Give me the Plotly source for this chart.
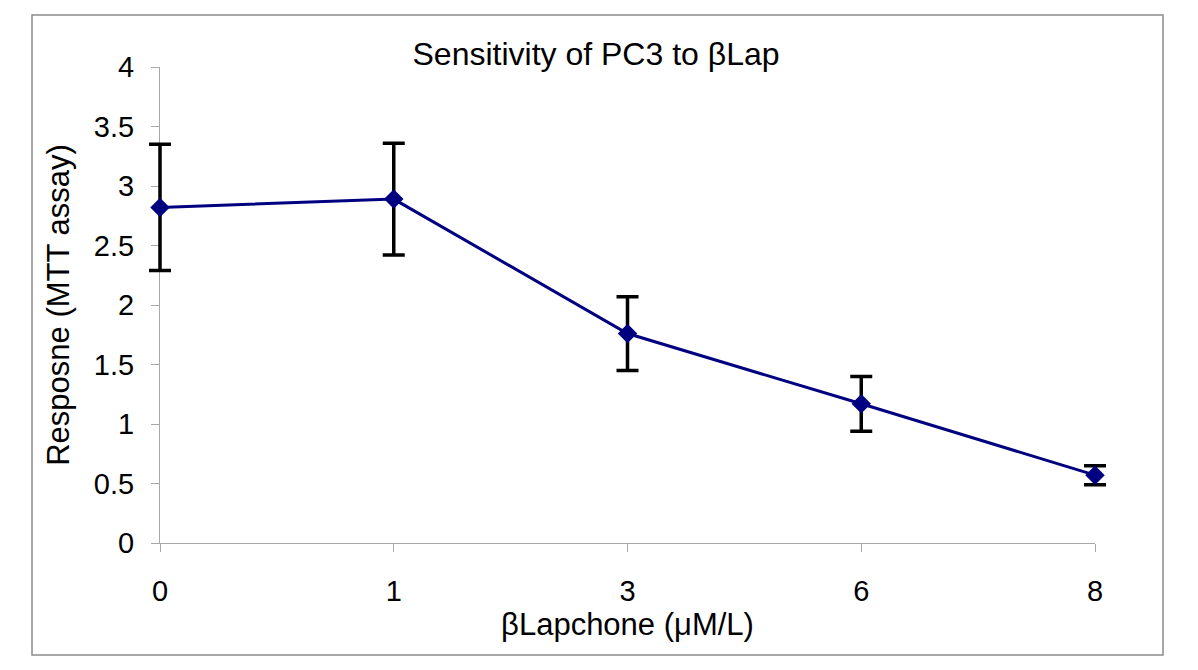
import plotly.graph_objects as go

categories = ["0", "1", "3", "6", "8"]
response = [2.82, 2.89, 1.76, 1.17, 0.57]
error = [0.53, 0.47, 0.31, 0.23, 0.08]
y_ticks = [0, 0.5, 1, 1.5, 2, 2.5, 3, 3.5, 4]
y_tick_labels = ["0", "0.5", "1", "1.5", "2", "2.5", "3", "3.5", "4"]

FONT = "Liberation Sans, Arial, sans-serif"
x_pos = list(range(len(categories)))
n_last = len(categories) - 1

# page offset (body margin) compensation
OFF = 8
W, H = 1198 - OFF, 670 - OFF
# target axes box in screen pixels
SL, SR, ST, SB = 160, 1095, 67, 543
# figure coords
AL, AR, AT, AB = SL - OFF, SR - OFF, ST - OFF, SB - OFF
# wider drawing area so error bars at ends are not clipped
PL, PR = 100, 1130

dom0 = (AL - PL) / (PR - PL)
dom1 = (AR - PL) / (PR - PL)
upp = n_last / (AR - AL)
x2_range = [-(AL - PL) * upp, n_last + (PR - AR) * upp]

def px_x(sx):
    return (sx - OFF - PL) / (PR - PL)

def px_y(sy):
    return (AB - (sy - OFF)) / (AB - AT)

fig = go.Figure()
# invisible copy on the visible axes so that they get drawn
fig.add_trace(go.Scatter(
    x=x_pos, y=response, xaxis="x", yaxis="y",
    mode="markers", marker=dict(opacity=0), hoverinfo="skip", showlegend=False,
))
fig.add_trace(go.Scatter(
    x=x_pos, y=response,
    xaxis="x2", yaxis="y",
    mode="lines+markers",
    line=dict(color="#000080", width=3),
    marker=dict(symbol="diamond", size=15, color="#000080"),
    error_y=dict(type="data", array=error, visible=True, color="black", thickness=3.5, width=11),
    cliponaxis=False,
    showlegend=False,
))

fig.update_layout(
    width=W, height=H,
    margin=dict(l=PL, r=W - PR, t=AT, b=H - AB, pad=0, autoexpand=False),
    paper_bgcolor="white", plot_bgcolor="rgba(0,0,0,0)",
    font=dict(family=FONT, color="black"),
    title=dict(text="Sensitivity of PC3 to βLap", x=(596 - OFF) / W, xanchor="center",
               y=1 - (54 - OFF) / H, yanchor="middle", font=dict(size=32, family=FONT)),
    xaxis=dict(
        domain=[dom0, dom1], anchor="y",
        range=[0, n_last], automargin=False,
        tickmode="array", tickvals=x_pos, ticktext=categories,
        showline=True, linecolor="#a8a8a8", linewidth=1,
        ticks="outside", ticklen=8, tickcolor="#a8a8a8",
        showgrid=False, zeroline=False,
        tickfont=dict(size=29, family=FONT),
        ticklabelstandoff=14,
        title=dict(text="βLapchone (μM/L)", font=dict(size=31, family=FONT), standoff=2),
    ),
    xaxis2=dict(
        domain=[0, 1], anchor="y", range=x2_range,
        visible=False, showgrid=False, zeroline=False,
    ),
    yaxis=dict(
        domain=[0, 1], anchor="x",
        range=[0, 4], automargin=False,
        tickmode="array", tickvals=y_ticks, ticktext=y_tick_labels,
        showline=True, linecolor="#a8a8a8", linewidth=1,
        ticks="outside", ticklen=8, tickcolor="#a8a8a8",
        showgrid=False, zeroline=False,
        tickfont=dict(size=29, family=FONT),
        ticklabelstandoff=11,
        title=dict(text="Resposne (MTT assay)", font=dict(size=31, family=FONT), standoff=15),
    ),
    shapes=[dict(
        type="rect", xref="paper", yref="paper",
        x0=px_x(32), x1=px_x(1163), y0=px_y(655), y1=px_y(15),
        line=dict(color="#8c8c8c", width=1.5), fillcolor="rgba(0,0,0,0)", layer="below",
    )],
)

fig.write_html("out.html")
